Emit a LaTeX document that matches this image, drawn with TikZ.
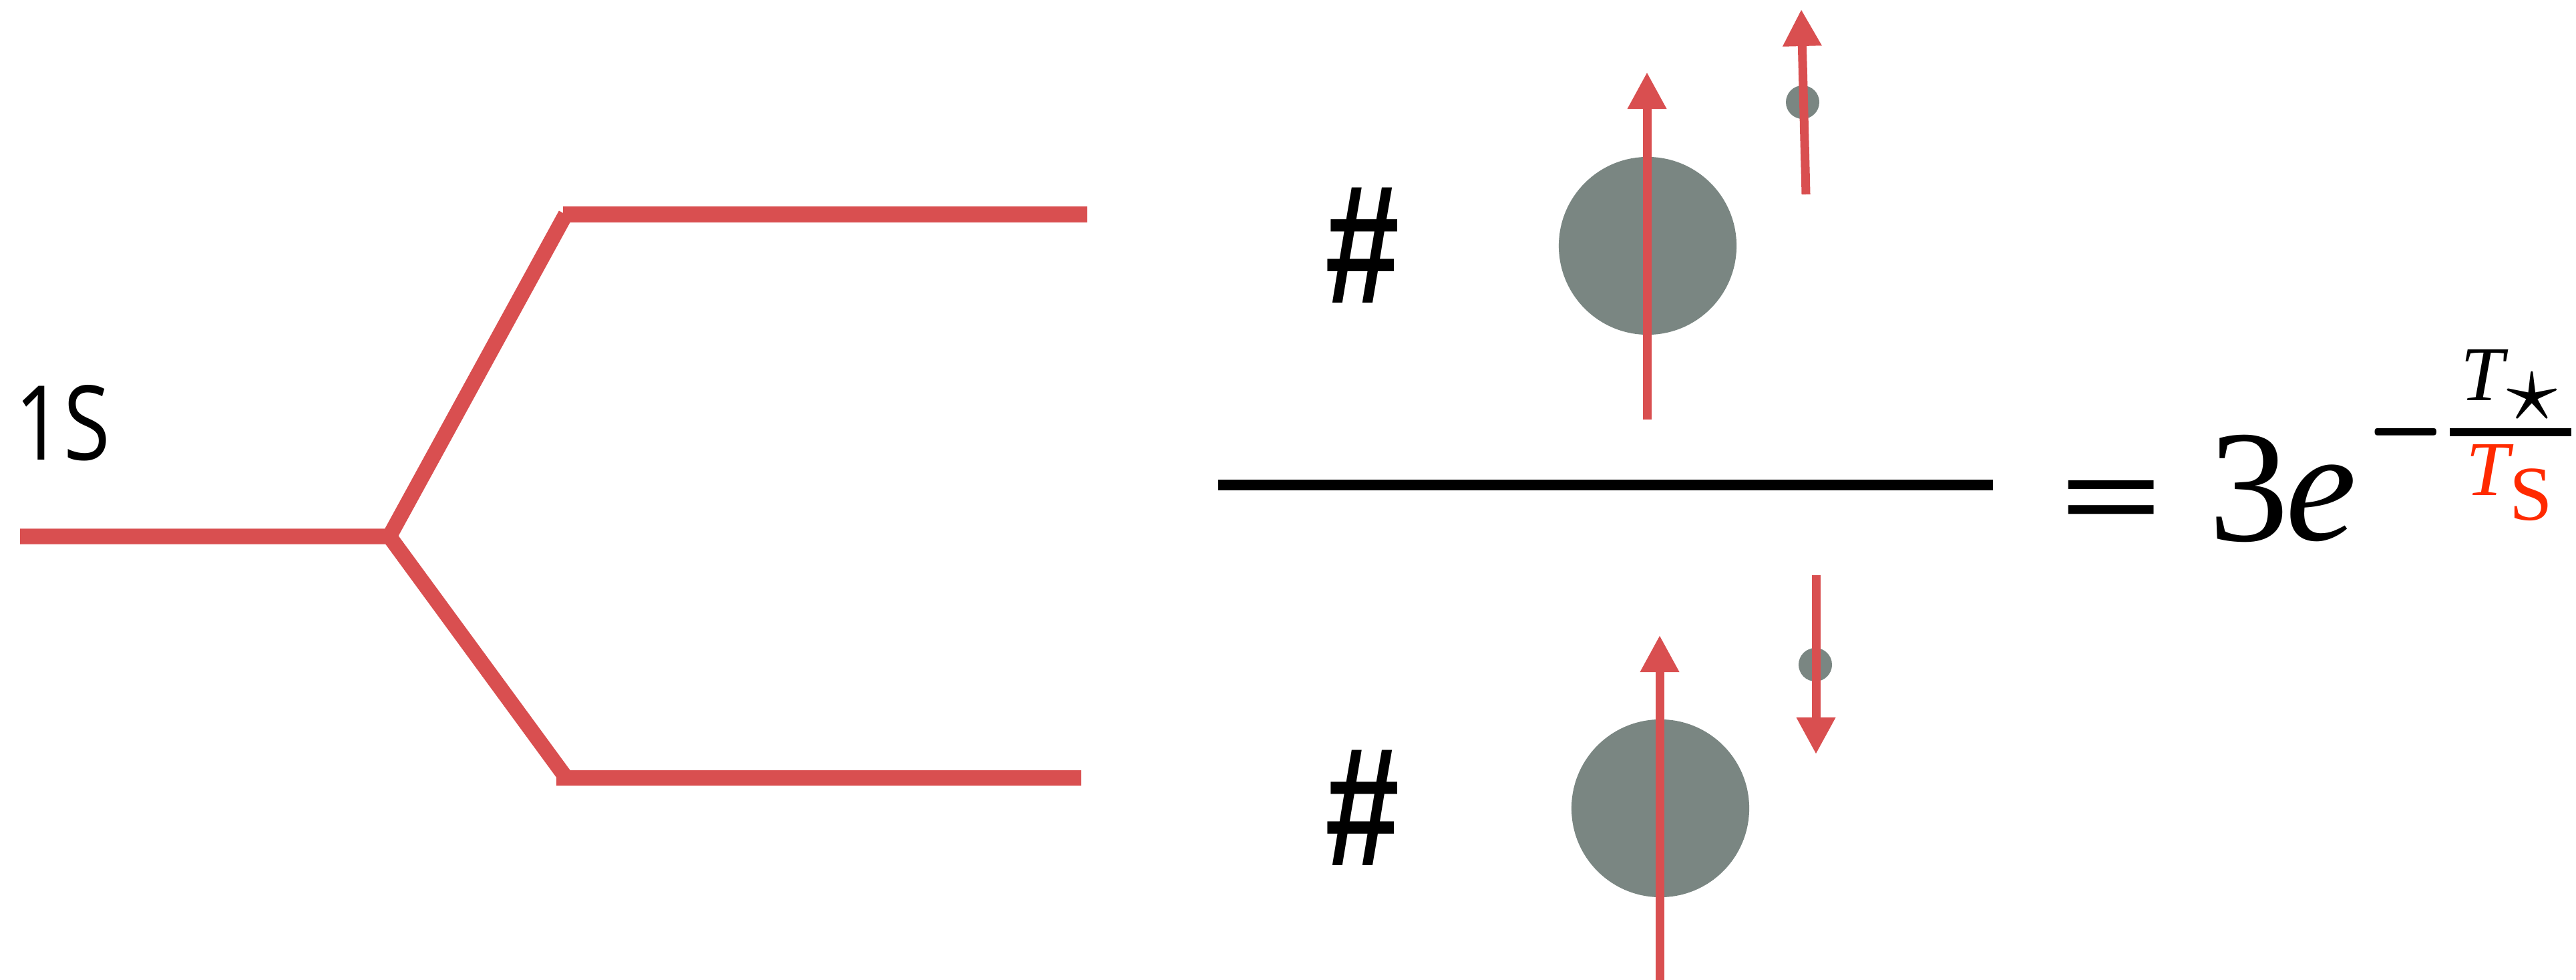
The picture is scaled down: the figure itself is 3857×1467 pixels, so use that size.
\documentclass[tikz,border=0pt]{standalone}
\usepackage{fontspec}
\usepackage{graphicx}
\setmainfont{Liberation Serif}
\newfontfamily\hashfont{Liberation Sans}
\newfontfamily\labelfont{Open Sans}
\usetikzlibrary{arrows.meta}
\definecolor{lvlred}{RGB}{217,79,80}
\definecolor{ballgrey}{RGB}{122,134,130}
\definecolor{eqred}{RGB}{255,42,0}
\begin{document}
\begin{tikzpicture}[x=0.01cm,y=-0.01cm,
  lvl/.style={draw=lvlred, line width=0.23cm, line cap=butt, line join=miter},
  ground/.style={draw=black, line width=0.16cm},
  ball/.style={circle, fill=ballgrey, inner sep=0pt, minimum size=2.66cm},
  smalldot/.style={circle, fill=ballgrey, inner sep=0pt, minimum size=0.5cm},
  spin/.style={draw=lvlred, line width=0.13cm, -{Triangle[length=0.55cm,width=0.55cm]}},
  txt/.style={inner sep=0pt, outer sep=0pt},
  hashmark/.style={txt, font=\hashfont\bfseries\fontsize{72}{72}\selectfont},
  bigmath/.style={txt, font=\fontsize{68}{68}\selectfont},
  expmath/.style={txt, font=\fontsize{33}{33}\selectfont}]
\useasboundingbox (0,0) rectangle (3857,1467);

% level scheme
\coordinate (s0) at (30,803);
\coordinate (j) at (583,803);
\coordinate (ua) at (847,321);
\coordinate (ub) at (843,321);
\coordinate (ue) at (1628,321);
\coordinate (la) at (846,1162);
\coordinate (lb) at (833,1164);
\coordinate (le) at (1619,1164);
\draw[lvl] (s0) -- (j) -- (ua);
\draw[lvl] (j) -- (la);
\draw[lvl] (ub) -- (ue);
\draw[lvl] (lb) -- (le);

\node[txt, font=\labelfont\fontsize{44}{44}\selectfont] (lab) at (94,633) {\scalebox{0.82}[1]{1S}};

% ground line
\coordinate (g0) at (1824,726);
\coordinate (g1) at (2984,726);
\draw[ground] (g0) -- (g1);

% hashes
\node[hashmark] (h1) at (2040,367) {\scalebox{0.79}[1]{\#}};
\node[hashmark] (h2) at (2040,1209) {\scalebox{0.79}[1]{\#}};

% balls
\node[ball] (b1) at (2467,368) {};
\node[ball] (b2) at (2486,1210) {};
\node[smalldot] (d1) at (2699,153) {};
\node[smalldot] (d2) at (2718,995) {};

% spins
\coordinate (a1s) at (2466,628);
\coordinate (a1e) at (2466,108);
\coordinate (a2s) at (2704,291);
\coordinate (a2e) at (2697,14);
\coordinate (a3s) at (2485,1470);
\coordinate (a3e) at (2485,951);
\coordinate (a4s) at (2719,861);
\coordinate (a4e) at (2719,1129);
\draw[spin] (a1s) -- (a1e);
\draw[spin] (a2s) -- (a2e);
\draw[spin] (a3s) -- (a3e);
\draw[spin] (a4s) -- (a4e);

% formula
\node[bigmath, anchor=base] (eq) at (3162,806) {\bfseries\scalebox{1.15}[0.78]{=}};
\node[bigmath, anchor=base west] (three) at (3307,809) {3};
\node[bigmath, anchor=base west] (ee) at (3422,808) {\itshape e};
\node[txt] (minus) at (3602,647) {\scalebox{4.3}[7.7]{$-$}};
\coordinate (f0) at (3668,647);
\coordinate (f1) at (3850,647);
\draw[line width=0.11cm] (f0) -- (f1);
\node[expmath, anchor=base west] (tn) at (3684,599) {\itshape T};
\node[txt] (star) at (3791,594) {\scalebox{4.3}{$\star$}};
\node[expmath, anchor=base west, text=eqred] (td) at (3692,741) {\itshape T};
\node[expmath, anchor=base west, text=eqred] (sd) at (3757,778) {S};
\end{tikzpicture}
\end{document}
